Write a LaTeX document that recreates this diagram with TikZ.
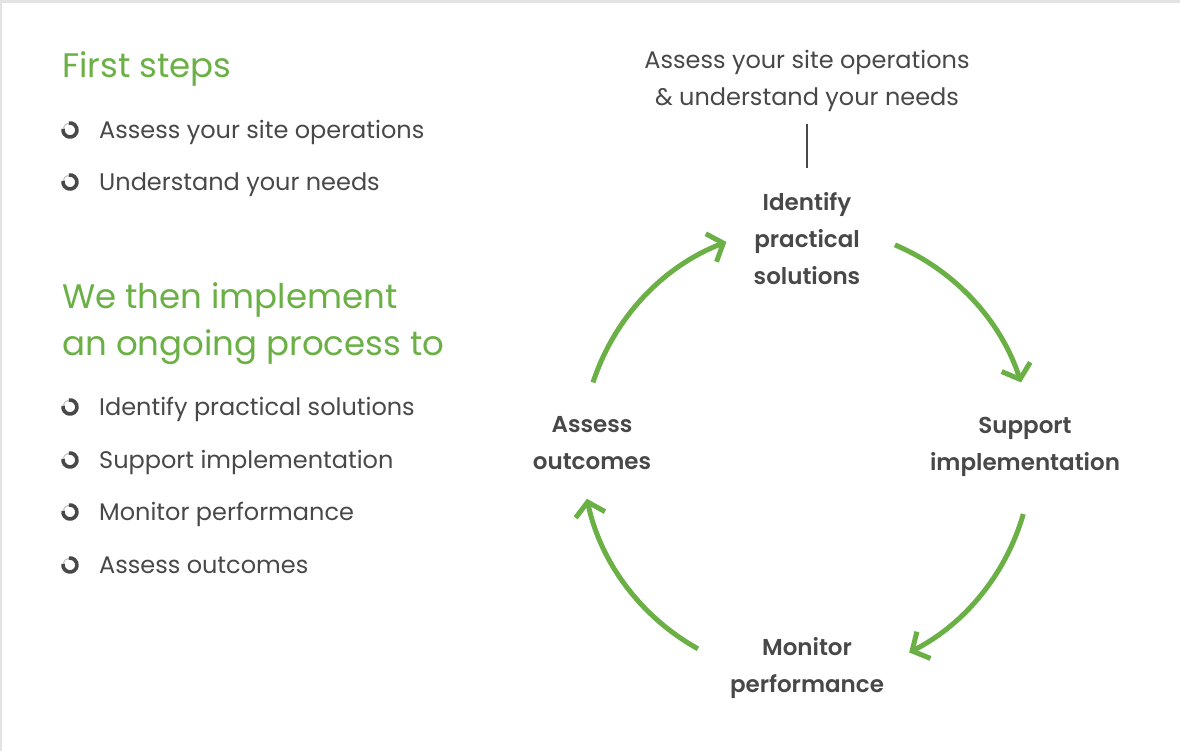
\documentclass[tikz,border=0pt]{standalone}
\usepackage{fontspec}
\setmainfont{Poppins}[BoldFont={Poppins SemiBold}]
\usetikzlibrary{arrows.meta}

\definecolor{leafgreen}{RGB}{106,176,69}
\definecolor{inkgray}{RGB}{72,72,72}
\definecolor{framegray}{RGB}{227,227,227}

\tikzset{
    heading/.style={anchor=base west, inner sep=0pt, text=leafgreen, font=\fontsize{34}{40}\selectfont},
    bullettext/.style={anchor=base west, inner sep=0pt, text=inkgray, font=\fontsize{24}{28}\selectfont},
    steplabel/.style={align=center, inner sep=0pt, text=inkgray, font=\fontsize{23}{37}\selectfont\bfseries},
    cyclearrow/.style={leafgreen, line width=5pt, -{Straight Barb[length=13pt,width=30pt,line width=5pt]}},
}

\begin{document}
\begin{tikzpicture}[x=1pt, y=1pt]
    \useasboundingbox (0,0) rectangle (1180,751);
    \fill[framegray] (0,748) rectangle (1180,751);
    \fill[framegray] (0,0) rectangle (2,751);

    % left column
    \node[heading] (firsthead) at (62,673) {First steps};
    \foreach \y/\txt [count=\i] in {612/Assess your site operations, 560/Understand your needs} {
        \draw[line width=3.6pt, inkgray] (70,\y+9) ++(170:7) arc[start angle=170, end angle=460, radius=7];
        \draw[line width=1pt, black!25] (70,\y+9) ++(100:7) arc[start angle=100, end angle=170, radius=7];
        \node[bullettext] (first\i) at (99,\y) {\txt};
    }

    \node[heading] (thenhead) at (62,442) {We then implement};
    \node[heading] (thenhead2) at (62,395) {an ongoing process to};
    \foreach \y/\txt [count=\i] in {335/Identify practical solutions, 282/Support implementation, 230/Monitor performance, 177/Assess outcomes} {
        \draw[line width=3.6pt, inkgray] (70,\y+9) ++(170:7) arc[start angle=170, end angle=460, radius=7];
        \draw[line width=1pt, black!25] (70,\y+9) ++(100:7) arc[start angle=100, end angle=170, radius=7];
        \node[bullettext] (then\i) at (99,\y) {\txt};
    }

    % cycle
    \node[bullettext, anchor=base] (need1) at (807,682) {Assess your site operations};
    \node[bullettext, anchor=base] (need2) at (807,645) {\& understand your needs};
    \node[steplabel] (identify) at (807,512) {Identify\\practical\\solutions};
    \node[steplabel] (support) at (1025,304) {Support\\implementation};
    \node[steplabel] (monitor) at (807,83) {Monitor\\performance};
    \node[steplabel] (assess) at (592,308) {Assess\\outcomes};
    \draw[inkgray, line width=2pt] (807,627) -- (807,583);

    \coordinate (hub) at (807,299);
    \draw[cyclearrow] (hub) ++(162:225) arc[start angle=162, end angle=111, radius=225];
    \draw[cyclearrow] (hub) ++(67:225) arc[start angle=67, end angle=18, radius=225];
    \draw[cyclearrow] (hub) ++(-16:225) arc[start angle=-16, end angle=-63, radius=225];
    \draw[cyclearrow] (hub) ++(241:225) arc[start angle=241, end angle=192, radius=225];
\end{tikzpicture}
\end{document}
